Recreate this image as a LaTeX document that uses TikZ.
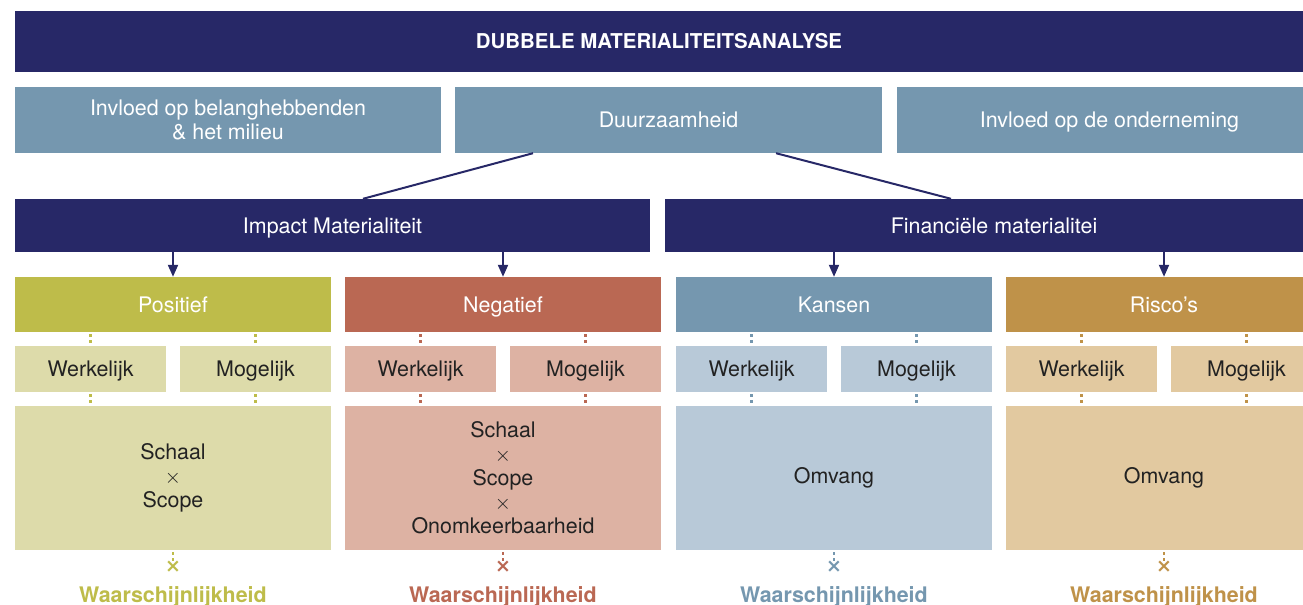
\documentclass[tikz,border=0pt]{standalone}
\usepackage{amsmath,amssymb}
\usepackage{fontspec}
\setmainfont{TeX Gyre Heros}
\newfontfamily\symfont{DejaVu Sans}
\usetikzlibrary{arrows.meta, positioning}

\definecolor{navy}{HTML}{272867}
\definecolor{steel}{HTML}{7597AF}
\definecolor{ink}{HTML}{222222}
\definecolor{olive}{HTML}{BEBC4A}
\definecolor{olivelight}{HTML}{DDDBAA}
\definecolor{rust}{HTML}{BA6853}
\definecolor{rustlight}{HTML}{DDB2A3}
\definecolor{kans}{HTML}{7597AF}
\definecolor{kanslight}{HTML}{B8C9D8}
\definecolor{gold}{HTML}{BF9249}
\definecolor{goldlight}{HTML}{E2C9A0}

\newcommand{\tx}{\fontsize{21.5}{24}\selectfont}

\begin{document}
\begin{tikzpicture}[
    x=1bp, y=-1bp,
    % single line text centred on its capitals
    oneline/.style={text height=15bp, text depth=0bp},
    % navy header bars
    bar/.style={
        rectangle, fill=navy, text=white, inner sep=0pt, oneline,
        minimum height=61bp, font=\fontsize{20.5}{24}\selectfont\bfseries
    },
    % steel blue topic row
    topic/.style={
        rectangle, fill=steel, text=white, inner sep=0pt,
        minimum height=66bp, align=center, font=\tx
    },
    pillar/.style={
        rectangle, fill=navy, text=white, inner sep=0pt, oneline,
        minimum height=53bp, font=\tx
    },
    % coloured category boxes
    cat/.style={
        rectangle, fill=#1, text=white, inner sep=0pt, oneline,
        minimum width=316bp, minimum height=55bp, font=\tx
    },
    sub/.style={
        rectangle, fill=#1light, text=ink, inner sep=0pt, oneline,
        minimum width=151bp, minimum height=46bp, font=\tx
    },
    calc/.style={
        rectangle, fill=#1light, text=ink, inner sep=0pt,
        minimum width=316bp, minimum height=144bp, align=center, font=\tx
    },
    cross/.style={text=#1, inner sep=0pt, font=\fontsize{19}{19}\selectfont\symfont\bfseries},
    prob/.style={text=#1, inner sep=0pt, oneline, font=\tx\bfseries},
    dots/.style={draw=#1, line width=2.5bp, dash pattern=on 2.5bp off 3.5bp, dash phase=-2bp},
    arrow/.style={-{Triangle[length=12bp, width=10bp]}, navy, line width=2bp},
    link/.style={navy, line width=2bp},
]
\useasboundingbox (0,0) rectangle (1303,605);
\clip (0,0) rectangle (1303,605);

% Title and topic row
\node[bar, minimum width=1288bp] (title) at (659,41.5) {DUBBELE MATERIALITEITSANALYSE};
\node[topic, minimum width=426bp] (stake) at (228,120) {Invloed op belanghebbenden\\\& het milieu};
\node[topic, oneline, minimum width=427bp] (sust) at (668.5,120) {Duurzaamheid};
\node[topic, oneline, minimum width=425bp] (firm) at (1109.5,120) {Invloed op de onderneming};

% Two materiality pillars
\node[pillar, minimum width=635bp] (impact) at (332.5,225.5) {Impact Materialiteit};
\node[pillar, minimum width=658bp] (fin) at (994,225.5) {Financiële materialitei};

\draw[link] ([xshift=-135.5bp]sust.south) -- ([xshift=30.5bp]impact.north);
\draw[link] ([xshift=107.5bp]sust.south) -- ([xshift=-43bp]fin.north);

% Categories with their sub boxes
\foreach \n/\lab/\x/\col/\big in {
    pos/Positief/173/olive/{Schaal\\$\times$\\Scope},
    neg/Negatief/503/rust/{Schaal\\$\times$\\Scope\\$\times$\\Onomkeerbaarheid},
    kan/Kansen/834/kans/{Omvang},
    ris/Risco’s/1164/gold/{Omvang}}{
    \node[cat=\col] (\n) at (\x,304.5) {\lab};
    \node[sub=\col] (\n-w) at (\x-82.5,369) {Werkelijk};
    \node[sub=\col] (\n-m) at (\x+82.5,369) {Mogelijk};
    \node[calc=\col] (\n-c) at (\x,478) {\big};
    \node[cross=\col] (\n-x) at (\x,567) {×};
    \node[prob=\col] (\n-p) at (\x,595) {Waarschijnlijkheid};
    \draw[dots=\col] (\n-w.north |- \n.south) -- (\n-w.north);
    \draw[dots=\col] (\n-m.north |- \n.south) -- (\n-m.north);
    \draw[dots=\col] (\n-w.south) -- (\n-w.south |- \n-c.north);
    \draw[dots=\col] (\n-m.south) -- (\n-m.south |- \n-c.north);
    \draw[dots=\col] (\n-c.south) -- (\n-x.north);
}

% Arrows into the categories
\draw[arrow] (impact.south -| pos.north) -- (pos.north);
\draw[arrow] (impact.south -| neg.north) -- (neg.north);
\draw[arrow] (fin.south -| kan.north) -- (kan.north);
\draw[arrow] (fin.south -| ris.north) -- (ris.north);

\end{tikzpicture}
\end{document}
